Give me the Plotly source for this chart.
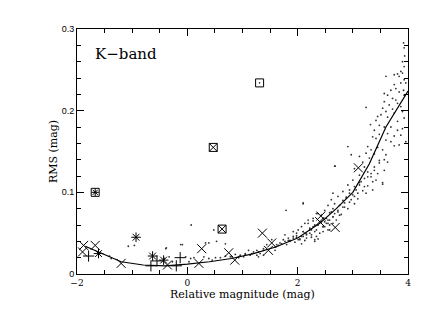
import plotly.graph_objects as go

# binned rms curve
curve_mag = [-1.85, -1.6, -1.2, -0.8, -0.4, 0.0, 0.4, 0.8, 1.2, 1.6, 2.0, 2.4, 2.7, 3.0, 3.3, 3.6, 4.0]
curve_rms = [0.034, 0.027, 0.015, 0.011, 0.010, 0.012, 0.015, 0.019, 0.025, 0.033, 0.044, 0.062, 0.080, 0.100, 0.135, 0.180, 0.224]

# field stars (small dots)
dot_mag = [
    0.07, -0.38, -0.12, 0.33, 0.39, 0.69, 0.48, -0.03, 0.06, 0.12, 0.30, 0.39, 0.51, 0.60, 0.69, 0.78,
    0.96, 1.02, -0.33, -0.27, -0.42, 0.87, 1.05, 0.45, 0.03, -0.96, -1.38, -1.07, -0.39, -0.09, 0.53, -1.41,
    1.05, 1.14, 1.20, 1.26, 1.32, 1.38, 1.44, 1.62, 1.68, 1.74, 1.77, 1.83, 1.86, 1.92, 1.98, 2.01,
    2.07, 2.10, 2.13, 2.16, 2.22, 2.25, 2.28, 2.31, 2.37, 2.40, 2.43, 2.46, 2.49, 2.52, 2.55, 2.58,
    2.61, 2.64, 2.28, 2.19, 2.34, 2.46, 1.80, 1.59, 1.38, 1.53, 1.29, 2.10, 1.79, 2.68, 3.54,
    3.92, 3.93, 3.94, 3.90, 3.93, 3.87, 3.90, 3.81, 3.75, 3.84, 3.60, 3.93, 3.87, 3.96, 3.75, 3.78,
    3.92, 3.69, 3.84, 3.57, 3.63, 3.93, 3.72, 3.78, 3.57, 3.81, 3.66, 3.87, 3.24, 3.54, 3.72, 3.60,
    3.90, 3.75, 3.51, 3.45, 3.63, 3.93, 3.42, 3.81, 3.32, 3.48, 3.57, 3.69, 3.90, 3.39, 3.81, 3.63,
    3.48, 3.87, 3.75, 3.36, 3.42, 3.60, 3.69, 3.96, 3.84, 3.75, 3.27, 2.91, 3.45, 3.33, 3.54, 3.24,
    3.39, 3.60, 2.97, 3.12, 3.30, 3.48, 3.18, 3.63, 2.67, 3.21, 3.39, 3.03, 3.57, 3.27, 3.45, 3.12,
    3.33, 3.21, 3.00, 3.36, 3.12, 3.54, 2.91, 3.27, 3.03, 3.36, 2.94, 3.18, 2.82, 3.09, 2.64, 3.00,
    2.73, 2.88, 3.09, 2.61, 2.82, 2.94, 2.67, 3.03, 2.76, 2.10, 2.55, 2.85, 2.64, 2.49, 2.73, 2.58,
    2.37, 2.79, 2.43, 2.64, 2.28, 2.52, 2.19, 2.70, 2.40, 2.13, 2.55, 2.31, 2.07, 2.46, 2.22, 2.01,
    2.34, 1.92, 2.10, 2.58, 2.16, 1.98, 2.25, 2.04, 1.86, 2.13, 2.31, 1.95, 2.07, 2.37,
    0.93, 1.11, 1.17, 1.26, 1.29, 1.38, 1.59, 1.65, 1.71, 1.77, 1.83, 1.92, 1.98, 2.04, 2.10, 2.16,
    2.22, 2.25, 2.31, 2.34, 2.46, 2.49, 2.55, 2.58, 2.64, 2.67, 2.73, 2.76, 2.82, 2.85, 2.88, 2.91,
    2.94, 2.97, 3.03, 3.06, 3.12, 3.15, 3.21, 3.24, 3.27, 3.33, 3.39, 3.42, 3.48, 3.57,
]
dot_rms = [
    0.060, 0.032, 0.036, 0.038, 0.038, 0.037, 0.054, 0.021, 0.019, 0.020, 0.021, 0.019, 0.020, 0.020, 0.022, 0.021,
    0.023, 0.021, 0.021, 0.015, 0.019, 0.024, 0.024, 0.017, 0.015, 0.035, 0.019, 0.034, 0.031, 0.036, 0.040, 0.022,
    0.025, 0.023, 0.027, 0.029, 0.025, 0.031, 0.036, 0.036, 0.038, 0.042, 0.048, 0.044, 0.040, 0.046, 0.050, 0.042,
    0.046, 0.052, 0.050, 0.044, 0.054, 0.048, 0.058, 0.040, 0.060, 0.050, 0.064, 0.068, 0.058, 0.062, 0.054, 0.066,
    0.076, 0.062, 0.065, 0.062, 0.074, 0.052, 0.036, 0.029, 0.023, 0.042, 0.021, 0.087, 0.078, 0.132, 0.112,
    0.283, 0.277, 0.267, 0.260, 0.254, 0.248, 0.246, 0.245, 0.244, 0.242, 0.242, 0.238, 0.234, 0.234, 0.232, 0.227,
    0.225, 0.225, 0.223, 0.221, 0.219, 0.219, 0.215, 0.213, 0.211, 0.209, 0.207, 0.205, 0.204, 0.203, 0.202, 0.199,
    0.199, 0.197, 0.195, 0.193, 0.192, 0.191, 0.188, 0.187, 0.183, 0.182, 0.180, 0.180, 0.178, 0.176, 0.176, 0.172,
    0.171, 0.170, 0.169, 0.168, 0.166, 0.164, 0.162, 0.162, 0.158, 0.157, 0.156, 0.156, 0.155, 0.152, 0.152, 0.148,
    0.147, 0.146, 0.146, 0.144, 0.142, 0.139, 0.137, 0.137, 0.132, 0.131, 0.131, 0.129, 0.127, 0.125, 0.123, 0.121,
    0.119, 0.117, 0.115, 0.113, 0.112, 0.110, 0.109, 0.108, 0.107, 0.103, 0.103, 0.102, 0.101, 0.099, 0.099, 0.097,
    0.095, 0.094, 0.092, 0.091, 0.090, 0.088, 0.086, 0.086, 0.084, 0.086, 0.084, 0.082, 0.080, 0.078, 0.076, 0.075,
    0.074, 0.073, 0.072, 0.070, 0.068, 0.068, 0.066, 0.066, 0.064, 0.062, 0.062, 0.060, 0.058, 0.058, 0.056, 0.054,
    0.054, 0.052, 0.052, 0.054, 0.049, 0.047, 0.045, 0.043, 0.041, 0.041, 0.042, 0.039, 0.037, 0.043,
    0.020, 0.029, 0.025, 0.023, 0.027, 0.029, 0.033, 0.035, 0.037, 0.040, 0.041, 0.044, 0.045, 0.042, 0.046, 0.048,
    0.050, 0.054, 0.052, 0.046, 0.058, 0.064, 0.066, 0.060, 0.070, 0.074, 0.078, 0.072, 0.082, 0.087, 0.093, 0.080,
    0.099, 0.091, 0.095, 0.103, 0.109, 0.113, 0.107, 0.099, 0.119, 0.123, 0.127, 0.115, 0.136, 0.140,
]

# stars with individual symbols
cross_mag = [-1.88, -1.90, -1.67, -1.20, -0.36, 0.26, 0.21, 0.75, 0.86, 1.36, 1.53, 1.47, 2.42, 2.40, 2.68, 3.10]
cross_rms = [0.035, 0.027, 0.035, 0.013, 0.011, 0.031, 0.013, 0.026, 0.017, 0.050, 0.038, 0.029, 0.071, 0.064, 0.057, 0.130]

plus_mag = [-1.79, -0.66, -0.55, -0.20, -0.13]
plus_rms = [0.022, 0.010, 0.016, 0.010, 0.020]

star_mag = [-1.61, -0.93, -0.63, -0.43]
star_rms = [0.025, 0.045, 0.022, 0.017]

boxstar_mag = [-1.67]
boxstar_rms = [0.100]

boxcross_mag = [0.47, 0.63]
boxcross_rms = [0.155, 0.055]

boxdot_mag = [1.31]
boxdot_rms = [0.234]

fig = go.Figure()

fig.add_trace(go.Scatter(x=dot_mag, y=dot_rms, mode="markers",
                         marker=dict(size=1.8, color="#333")))
fig.add_trace(go.Scatter(x=curve_mag, y=curve_rms, mode="lines",
                         line=dict(color="black", width=1.2)))

def sym(xs, ys, symbol, size):
    fig.add_trace(go.Scatter(x=xs, y=ys, mode="markers",
                             marker=dict(symbol=symbol, size=size, color="black",
                                         line=dict(color="black", width=1))))

sym(cross_mag, cross_rms, "x-thin-open", 9)
sym(plus_mag, plus_rms, "cross-thin-open", 8)
sym(star_mag, star_rms, "asterisk-open", 8)
sym(boxstar_mag, boxstar_rms, "square-open", 8)
sym(boxstar_mag, boxstar_rms, "asterisk-open", 6)
sym(boxcross_mag, boxcross_rms, "square-x-open", 8)
sym(boxdot_mag, boxdot_rms, "square-open-dot", 8)

axis_common = dict(showline=True, linecolor="black", linewidth=1, mirror="allticks",
                   ticks="inside", tickcolor="black", showgrid=False, zeroline=False)

fig.update_layout(
    width=423, height=327,
    margin=dict(l=77, r=13, t=29, b=53),
    paper_bgcolor="white", plot_bgcolor="white",
    showlegend=False,
    xaxis=dict(range=[-2, 4], tickvals=[-2, 0, 2, 4], ticklen=7,
               minor=dict(dtick=0.5, tick0=0, ticklen=4, ticks="inside", tickcolor="black"),
               tickfont=dict(family="DejaVu Serif", size=9, color="black"),
               title=dict(text="Relative magnitude (mag)", standoff=0,
                          font=dict(family="DejaVu Serif", size=11, color="black")),
               **axis_common),
    yaxis=dict(range=[0, 0.3], tickvals=[0, 0.1, 0.2, 0.3], ticklen=7,
               minor=dict(dtick=0.02, tick0=0, ticklen=4, ticks="inside", tickcolor="black"),
               tickfont=dict(family="Liberation Sans", size=9, color="black"),
               title=dict(text="RMS (mag)", standoff=1,
                          font=dict(family="DejaVu Serif", size=11, color="black")),
               **axis_common),
    annotations=[dict(x=-1.71, y=0.269, xref="x", yref="y", text="K\u2212band",
                      showarrow=False, xanchor="left", yanchor="middle",
                      font=dict(family="DejaVu Serif", size=15, color="black"))],
)

fig.write_html("out.html", config={"displayModeBar": False},
               post_script="document.body.style.margin='0';")
